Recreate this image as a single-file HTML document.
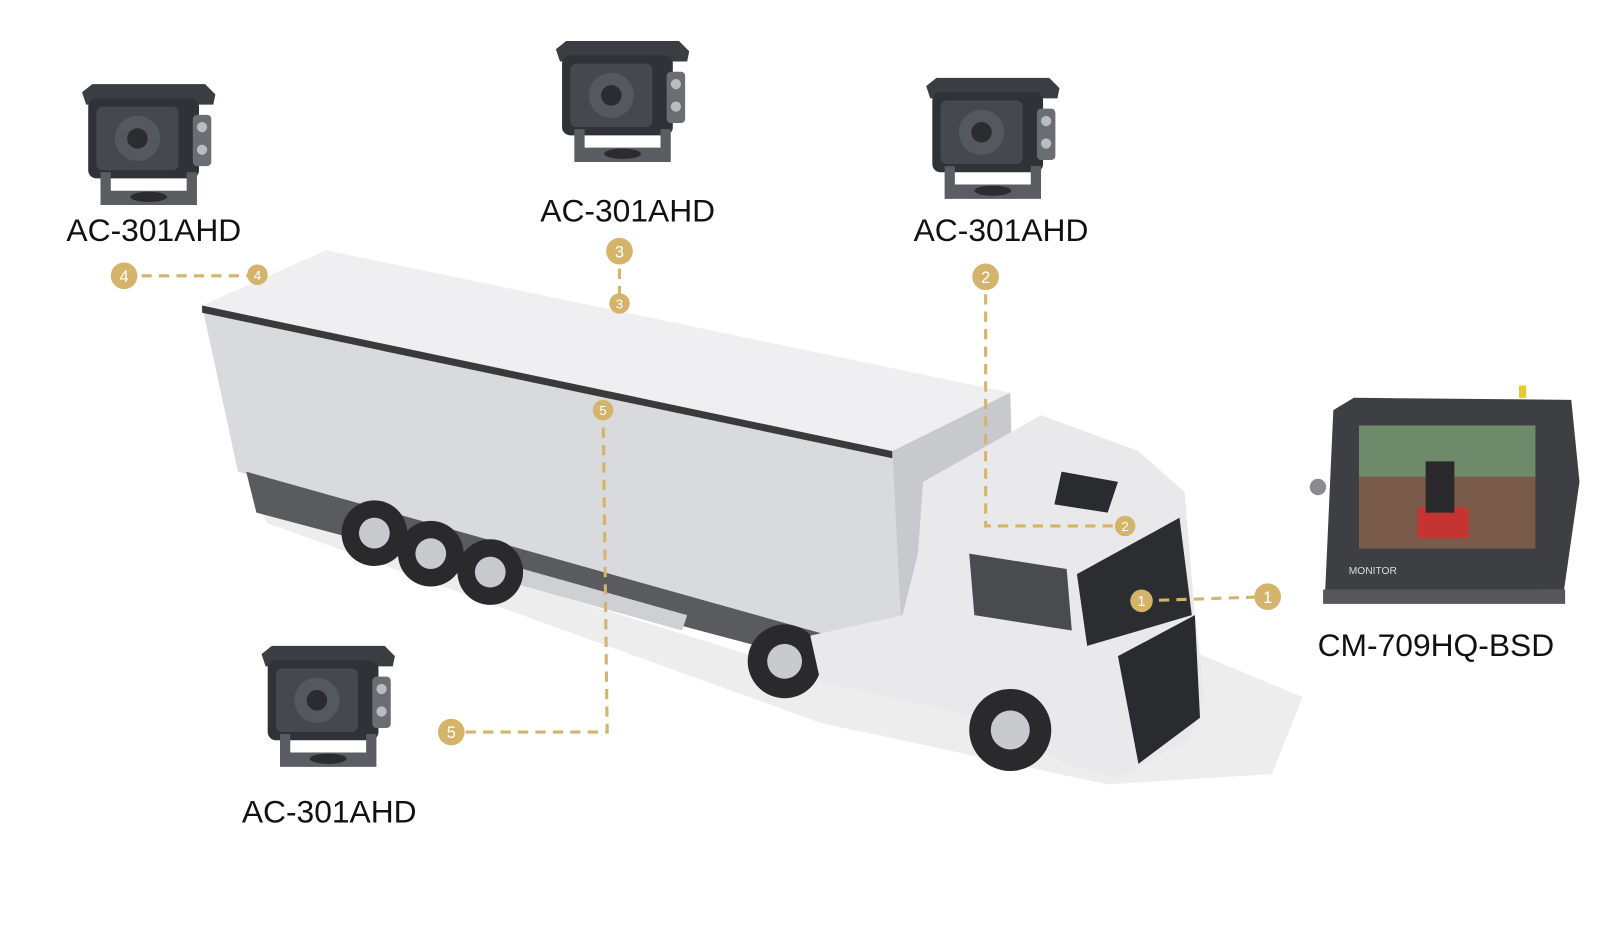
<!DOCTYPE html>
<html><head><meta charset="utf-8"><style>
html,body{margin:0;padding:0;background:#fff;width:1600px;height:933px;overflow:hidden}
text{font-family:"Liberation Sans",sans-serif}
</style></head><body>
<svg width="1600" height="933" viewBox="0 0 1560 910" preserveAspectRatio="none" xmlns="http://www.w3.org/2000/svg">
<defs>
<g id="cam">
  <path d="M0 8 L10 0 L120 0 L130 10 L128 20 L4 20 Z" fill="#3a3d42"/>
  <rect x="6" y="14" width="108" height="78" rx="8" fill="#2f3237"/>
  <rect x="14" y="22" width="80" height="62" rx="6" fill="#45484e"/>
  <circle cx="54" cy="53" r="22" fill="#55585e"/>
  <circle cx="54" cy="53" r="10" fill="#2a2c30"/>
  <rect x="108" y="30" width="18" height="50" rx="4" fill="#6a6d72"/>
  <circle cx="117" cy="42" r="5" fill="#b9bcc0"/><circle cx="117" cy="64" r="5" fill="#b9bcc0"/>
  <path d="M18 86 L18 118 L112 118 L112 86 L102 86 L102 104 L28 104 L28 86 Z" fill="#5a5d62"/>
  <ellipse cx="65" cy="110" rx="18" ry="5" fill="#2a2c30"/>
</g>
</defs>
<path d="M250 490 L800 660 L1150 630 L1270 680 L1240 755 L1080 765 L800 705 L260 510 Z" fill="#ededed"/>
<path d="M197 298 L318 244 L985 383 L870 440 Z" fill="#efeff1"/>
<path d="M197 298 L870 440 L880 640 L232 460 Z" fill="#d9dadd"/>
<path d="M197 298 L870 440 L870 447 L197 305 Z" fill="#3a3a3a"/>
<path d="M870 440 L985 383 L990 560 L880 640 Z" fill="#c8c9cc"/>
<path d="M240 460 L880 640 L870 665 L250 500 Z" fill="#5a5b5e"/>
<path d="M510 555 L670 600 L665 615 L505 570 Z" fill="#cfd0d3"/>
<g fill="#2a2a2c"><circle cx="365" cy="520" r="32"/><circle cx="420" cy="540" r="32"/><circle cx="478" cy="558" r="32"/><circle cx="765" cy="645" r="36"/></g>
<g fill="#c9cacd"><circle cx="365" cy="520" r="15"/><circle cx="420" cy="540" r="15"/><circle cx="478" cy="558" r="15"/><circle cx="765" cy="645" r="17"/></g>
<path d="M900 470 L1015 405 L1110 440 L1155 480 L1165 600 L1175 680 L1160 720 L1090 760 L1040 745 L935 695 L800 665 L790 620 L880 600 L895 540 Z" fill="#e9e9ec"/>
<path d="M945 540 L1040 555 L1045 615 L950 600 Z" fill="#4a4b4f"/>
<path d="M1050 560 L1150 505 L1162 600 L1060 630 Z" fill="#2c2d30"/>
<path d="M1090 640 L1165 600 L1170 700 L1110 745 Z" fill="#2a2b2e"/>
<path d="M1035 460 L1090 470 L1080 500 L1028 492 Z" fill="#2a2b2e"/>
<circle cx="985" cy="712" r="40" fill="#2a2a2c"/><circle cx="985" cy="712" r="19" fill="#c9cacd"/>
<use href="#cam" x="80" y="82"/>
<use href="#cam" x="542" y="40"/>
<use href="#cam" x="903" y="76"/>
<use href="#cam" x="255" y="630"/>
<path d="M1300 400 L1320 388 L1532 390 L1540 470 L1525 575 L1292 578 Z" fill="#3d3f43"/>
<rect x="1325" y="415" width="172" height="120" fill="#7a5a48"/>
<rect x="1325" y="415" width="172" height="50" fill="#6d8a6a"/>
<rect x="1382" y="495" width="50" height="30" fill="#d82a2a" opacity="0.8"/>
<rect x="1390" y="450" width="28" height="50" fill="#2a2a2c"/>
<rect x="1290" y="575" width="236" height="14" fill="#55575b"/>
<text x="1315" y="560" font-size="10" fill="#ddd">MONITOR</text>
<circle cx="1285" cy="475" r="8" fill="#8a8c90"/>
<rect x="1481" y="376" width="7" height="12" fill="#e8c830"/>
<g font-size="31" fill="#111" text-anchor="middle">
<text x="150" y="235">AC-301AHD</text>
<text x="612" y="216">AC-301AHD</text>
<text x="976" y="235">AC-301AHD</text>
<text x="321" y="802">AC-301AHD</text>
<text x="1400" y="640">CM-709HQ-BSD</text>
</g>
<g stroke="#d4b46a" stroke-width="3" stroke-dasharray="10 7" fill="none">
<path d="M121 269 L251 269"/>
<path d="M604 245 L604 296"/>
<path d="M961 270 L961 513 L1097 513"/>
<path d="M1113 586 L1236 582"/>
<path d="M588 400 L592 714 L440 714"/>
</g>
<g fill="#d4b46a">
<circle cx="121" cy="269" r="13"/><circle cx="251" cy="268" r="10"/>
<circle cx="604" cy="245" r="13"/><circle cx="604" cy="296" r="10"/>
<circle cx="961" cy="270" r="13"/><circle cx="1097" cy="513" r="10"/>
<circle cx="1113" cy="586" r="11"/><circle cx="1236" cy="582" r="13"/>
<circle cx="588" cy="400" r="10"/><circle cx="440" cy="714" r="13"/>
</g>
<g fill="#fff" text-anchor="middle" font-size="16">
<text x="121" y="275">4</text><text x="251" y="273" font-size="13">4</text>
<text x="604" y="251">3</text><text x="604" y="301" font-size="13">3</text>
<text x="961" y="276">2</text><text x="1097" y="518" font-size="13">2</text>
<text x="1113" y="591" font-size="14">1</text><text x="1236" y="588">1</text>
<text x="588" y="405" font-size="13">5</text><text x="440" y="720">5</text>
</g>
</svg>
</body></html>
